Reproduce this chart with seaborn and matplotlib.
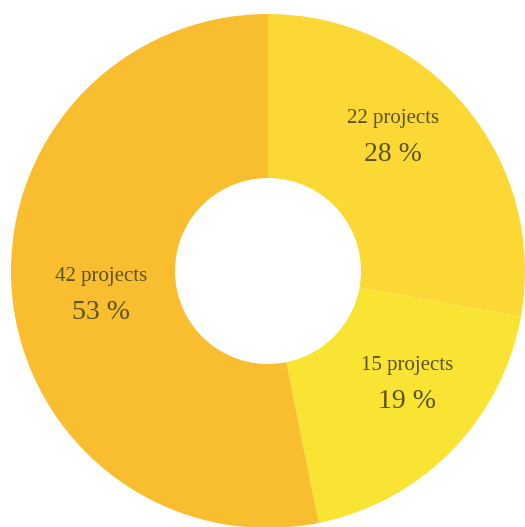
import matplotlib
matplotlib.use('Agg')
import matplotlib.pyplot as plt
import numpy as np
import seaborn as sns

# Data
counts = [22, 15, 42]
labels = ['projects', 'projects', 'projects']
colors = sns.color_palette(['#fcd835', '#f9e433', '#f8be2f'])

sns.set_style('white')
plt.rcParams['font.family'] = ['Liberation Serif', 'DejaVu Serif']

fig = plt.figure(figsize=(5.25, 5.27), dpi=100)
ax = fig.add_axes([0, 0, 1, 1])
ax.set_aspect('equal')
ax.axis('off')

cx, cy = 268, 256
r_out, r_in = 257, 93

wedges, _ = ax.pie(counts, colors=colors, startangle=90, counterclock=False,
                   radius=r_out, center=(cx, cy),
                   wedgeprops=dict(width=r_out - r_in, linewidth=0))
ax.set_xlim(0, 525)
ax.set_ylim(0, 527)

# small nudges so the labels sit where the original had them
nudges = [(-9, 22), (14, 10), (7, -6)]

total = sum(counts)
r_mid = (r_out + r_in) / 2
for w, n, lab, (dx, dy) in zip(wedges, counts, labels, nudges):
    ang = np.deg2rad((w.theta1 + w.theta2) / 2)
    x = cx + r_mid * np.cos(ang) + dx
    y = cy + r_mid * np.sin(ang) + dy
    pct = round(100 * n / total)
    ax.text(x, y + 18, f'{n} {lab}', ha='center', va='center',
            fontsize=15, color='#5c5222')
    ax.text(x, y - 18, f'{pct} %', ha='center', va='center',
            fontsize=20, color='#5c5222')

fig.savefig('out.png', dpi=100)
